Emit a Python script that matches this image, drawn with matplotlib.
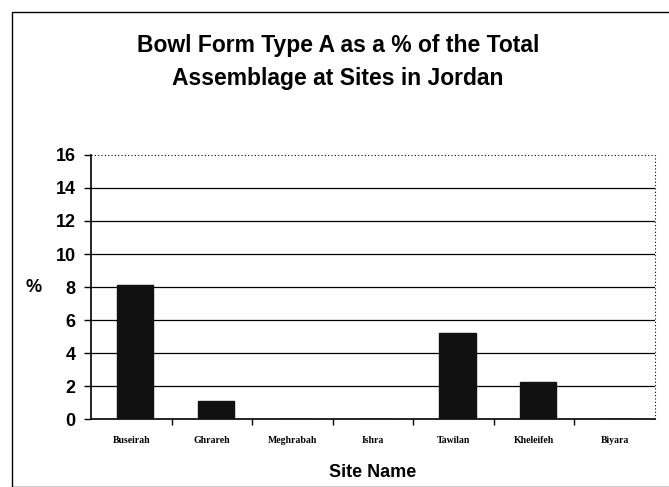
import matplotlib
matplotlib.use("Agg")
import matplotlib.pyplot as plt
from matplotlib.patches import Rectangle

sites = ["Buseirah", "Ghrareh", "Meghrabah", "Ishra", "Tawilan", "Kheleifeh", "Biyara"]
percent = [8.1, 1.1, 0.0, 0.0, 5.25, 2.25, 0.0]
yticks = [0, 2, 4, 6, 8, 10, 12, 14, 16]

fig = plt.figure(figsize=(6.69, 4.87), dpi=100)
ax = fig.add_axes([0.136, 0.139, 0.843, 0.543])

x = list(range(len(sites)))
ax.bar([i + 0.05 for i in x], percent, width=0.45, color="#111111", edgecolor="#111111", zorder=3)

ax.set_xlim(-0.5, len(sites) - 0.5)
ax.set_ylim(0, 16)
ax.set_yticks(yticks)
ax.set_yticklabels([str(t) for t in yticks], fontfamily="Liberation Sans",
                   fontweight="bold", fontsize=13)
ax.set_xticks(x)
ax.set_xticklabels(sites, fontfamily="Liberation Serif", fontweight="bold", fontsize=7)

for t in yticks[1:-1]:
    ax.axhline(t, color="black", linewidth=0.9, zorder=0)
for s in ["top", "right"]:
    ax.spines[s].set_visible(False)
ax.spines["left"].set_linewidth(1.2)
ax.spines["bottom"].set_linewidth(1.2)
ax.plot([0, 1], [1, 1], transform=ax.transAxes, color="black", linestyle=(0, (1, 2)),
        linewidth=0.8, clip_on=False)
ax.plot([1, 1], [0, 1], transform=ax.transAxes, color="black", linestyle=(0, (1, 2)),
        linewidth=0.8, clip_on=False)
ax.tick_params(axis="y", direction="out", length=5, width=1, pad=6)
ax.set_xticks([i + 0.5 for i in x[:-1]], minor=True)
ax.tick_params(axis="x", which="major", length=0, pad=12)
ax.tick_params(axis="x", which="minor", length=4, width=1, direction="out")

ax.set_ylabel("%", fontfamily="Liberation Sans", fontweight="bold", fontsize=13,
              rotation=0, labelpad=16, va="center")
ax.set_xlabel("Site Name", fontfamily="Liberation Sans", fontweight="bold", fontsize=13,
              labelpad=14)

fig.text(0.505, 0.873, "Bowl Form Type A as a % of the Total\nAssemblage at Sites in Jordan",
         ha="center", va="center", fontfamily="Liberation Sans", fontweight="bold",
         fontsize=16.5, linespacing=1.55)

fig.patches.append(Rectangle((0.018, 0.0), 1.0, 0.975, transform=fig.transFigure,
                             fill=False, edgecolor="black", linewidth=1.0))

fig.savefig("out.png", dpi=100)
